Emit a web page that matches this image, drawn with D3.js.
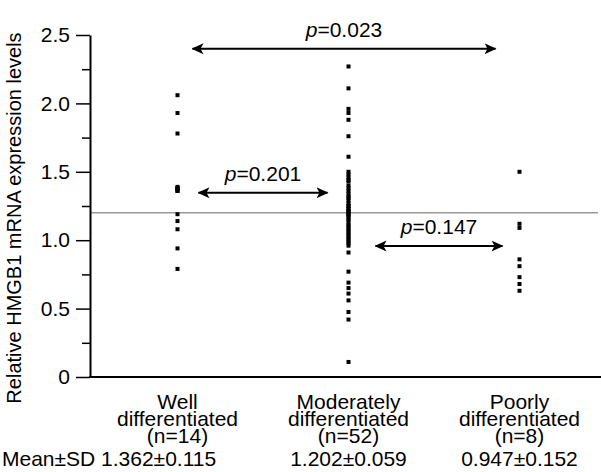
<!DOCTYPE html>
<html>
<head>
<meta charset="utf-8">
<script src="https://cdn.jsdelivr.net/npm/d3@7"></script>
<style>
  body { margin: 0; background: #fff; }
  text { font-family: "Liberation Sans", Arial, sans-serif; fill: #000; }
</style>
</head>
<body>
<div id="chart"></div>
<script>
// groups and their labels
const groups = ["Well", "Moderately", "Poorly"];
const groupLines = [
    ["Well", "differentiated", "(n=14)"],
    ["Moderately", "differentiated", "(n=52)"],
    ["Poorly", "differentiated", "(n=8)"]
];
const meanSD = ["1.362\u00b10.115", "1.202\u00b10.059", "0.947\u00b10.152"];

// individual expression values
const wellValues = [2.06, 1.93, 1.78, 1.39, 1.38, 1.37, 1.36, 1.36, 1.19, 1.14, 1.08, 0.94, 0.79, 1.38];
const moderateValues = [
    2.27, 2.11, 1.96, 1.93, 1.88, 1.76, 1.61, 1.50, 1.46, 1.43, 1.38, 1.34, 1.31, 1.27, 1.25, 1.21,
    1.18, 1.15, 1.11, 1.08, 1.05, 1.02, 0.98, 0.96, 0.91, 0.77, 0.69, 0.65, 0.61, 0.56, 0.475, 0.42, 0.11,
    1.48, 1.44, 1.40, 1.36, 1.32, 1.29, 1.25, 1.22, 1.19, 1.16, 1.13, 1.10, 1.07, 1.04, 1.01, 0.99,
    1.21, 1.19, 1.23
];
const poorValues = [1.50, 1.12, 1.09, 0.86, 0.81, 0.73, 0.68, 0.63];

const referenceLevel = 1.2;

const yTicks = [0, 0.5, 1.0, 1.5, 2.0, 2.5];
const yMinorTicks = [0.25, 0.75, 1.25, 1.75, 2.25];

// comparisons: from group, to group, p value, arrow level
const comparisons = [
    { from: "Well", to: "Poorly", p: "0.023", level: 2.40, pad0: 15, pad1: 24 },
    { from: "Well", to: "Moderately", p: "0.201", level: 1.347, pad0: 21, pad1: 21 },
    { from: "Moderately", to: "Poorly", p: "0.147", level: 0.958, pad0: 27, pad1: 17 }
];

const width = 601;
const height = 472;
const fontSize = 21;

const xScale = d3.scaleBand().domain(groups).range([92, 605]);
const yScale = d3.scaleLinear().domain([0, 2.5]).range([377, 35]);
const cx = g => xScale(g) + xScale.bandwidth() / 2;

const svg = d3.select("#chart")
    .append("svg")
    .attr("width", width)
    .attr("height", height);

// arrowhead marker
const defs = svg.append("defs");
defs.append("marker")
    .attr("id", "head")
    .attr("viewBox", "0 -6 12 12")
    .attr("refX", 11)
    .attr("refY", 0)
    .attr("markerWidth", 12)
    .attr("markerHeight", 12)
    .attr("markerUnits", "userSpaceOnUse")
    .attr("orient", "auto-start-reverse")
    .append("path")
    .attr("d", "M0,-5.5 L12,0 L0,5.5 L3,0 Z")
    .attr("fill", "#000");

// reference line
svg.append("line")
    .attr("x1", 90)
    .attr("x2", 598)
    .attr("y1", yScale(referenceLevel))
    .attr("y2", yScale(referenceLevel))
    .attr("stroke", "#999")
    .attr("stroke-width", 1.5);

// y axis
const yAxis = d3.axisLeft(yScale)
    .tickValues(yTicks)
    .tickSize(14)
    .tickSizeOuter(0)
    .tickPadding(6)
    .tickFormat(d => d === 0 ? "0" : d3.format(".1f")(d));

const yAxisGroup = svg.append("g")
    .attr("transform", "translate(90,0)")
    .call(yAxis);
yAxisGroup.select(".domain").attr("stroke-width", 2);
yAxisGroup.selectAll(".tick line").attr("stroke-width", 1.5);
yAxisGroup.selectAll(".tick text")
    .attr("font-size", fontSize)
    .attr("font-family", "Liberation Sans, Arial, sans-serif");

svg.append("g")
    .attr("transform", "translate(90,0)")
    .call(d3.axisLeft(yScale).tickValues(yMinorTicks).tickSize(8).tickFormat(""))
    .call(g => g.select(".domain").remove())
    .selectAll(".tick line").attr("stroke-width", 1.5);

// x axis baseline
svg.append("line")
    .attr("x1", 89)
    .attr("x2", 601)
    .attr("y1", yScale(0))
    .attr("y2", yScale(0))
    .attr("stroke", "#000")
    .attr("stroke-width", 2);

// y label
svg.append("text")
    .attr("transform", `translate(21,${(yScale(0) + yScale(2.5)) / 2 + 12}) rotate(-90)`)
    .attr("text-anchor", "middle")
    .attr("font-size", 20)
    .text("Relative HMGB1 mRNA expression levels");

// points
const series = [wellValues, moderateValues, poorValues];
series.forEach((vals, i) => {
    svg.append("g")
        .selectAll("rect")
        .data(vals)
        .enter()
        .append("rect")
        .attr("x", cx(groups[i]) - 2)
        .attr("y", d => yScale(d) - 2)
        .attr("width", 4)
        .attr("height", 4)
        .attr("fill", "#000");
});

// comparison arrows
comparisons.forEach(c => {
    const x0 = cx(c.from) + c.pad0;
    const x1 = cx(c.to) - c.pad1;
    const y = yScale(c.level);
    svg.append("line")
        .attr("x1", x0).attr("x2", x1)
        .attr("y1", y).attr("y2", y)
        .attr("stroke", "#000")
        .attr("stroke-width", 2)
        .attr("marker-start", "url(#head)")
        .attr("marker-end", "url(#head)");
    const t = svg.append("text")
        .attr("x", (x0 + x1) / 2)
        .attr("y", y - 12)
        .attr("text-anchor", "middle")
        .attr("font-size", fontSize);
    t.append("tspan").attr("font-style", "italic").text("p");
    t.append("tspan").text("=" + c.p);
});

// category labels
groupLines.forEach((lines, i) => {
    const t = svg.append("text")
        .attr("text-anchor", "middle")
        .attr("font-size", fontSize);
    lines.forEach((s, j) => {
        t.append("tspan")
            .attr("x", cx(groups[i]))
            .attr("y", 409 + j * 17)
            .text(s);
    });
});

// mean ± SD row
svg.append("text")
    .attr("x", 2)
    .attr("y", 466)
    .attr("font-size", fontSize)
    .text("Mean\u00b1SD " + meanSD[0]);
meanSD.slice(1).forEach((s, i) => {
    svg.append("text")
        .attr("x", cx(groups[i + 1]))
        .attr("y", 466)
        .attr("text-anchor", "middle")
        .attr("font-size", fontSize)
        .text(s);
});
</script>
</body>
</html>
